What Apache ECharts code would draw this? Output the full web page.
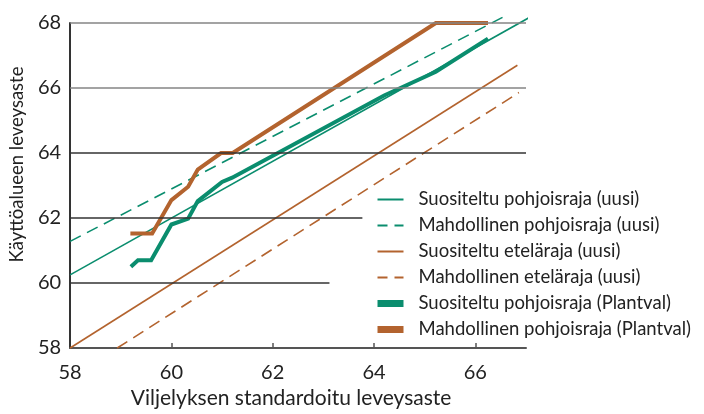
<!DOCTYPE html>
<html>
<head>
<meta charset="utf-8">
<script src="https://cdn.jsdelivr.net/npm/echarts@6/dist/echarts.min.js"></script>
<style>
html, body { margin: 0; padding: 0; background: #fff; }
#chart { width: 704px; height: 414px; }
</style>
</head>
<body>
<div id="chart"></div>
<script>
// sarjojen nimet (legenda)
const names = [
	'Suositeltu pohjoisraja (uusi)',
	'Mahdollinen pohjoisraja (uusi)',
	'Suositeltu eteläraja (uusi)',
	'Mahdollinen eteläraja (uusi)',
	'Suositeltu pohjoisraja (Plantval)',
	'Mahdollinen pohjoisraja (Plantval)'
];

// uudet rajat: suorat, [x, y]
const suosPohjUusi = [[58, 60.25], [67.1, 68.2]];
const mahdPohjUusi = [[58, 61.28], [66.57, 68.2]];
const suosEtelaUusi = [[58, 58], [66.83, 66.7]];
const mahdEtelaUusi = [[58.93, 58], [66.86, 65.86]];

// Plantval-rajat
const suosPohjPlantX = [59.2, 59.34, 59.6, 60.0, 60.33, 60.52, 61.0, 61.2, 64.2, 65.22, 66.25];
const suosPohjPlantY = [60.5, 60.7, 60.7, 61.8, 61.98, 62.52, 63.11, 63.24, 65.77, 66.5, 67.52];
const mahdPohjPlantX = [59.19, 59.62, 60.0, 60.33, 60.52, 60.98, 61.21, 65.22, 66.25];
const mahdPohjPlantY = [61.52, 61.52, 62.55, 62.96, 63.49, 64.0, 64.0, 68.0, 68.0];

// akselit ja vaakaviivat
const xTicks = [58, 60, 62, 64, 66];
const yTicks = [58, 60, 62, 64, 66, 68];
const gridRows = [60, 62, 64, 66, 68];
const gridEnds = [63.12, 63.77, 67, 67, 67];

const green = '#0a8d6e';
const brown = '#b3632e';
const font = 'Lato';

function pairs(xs, ys) {
	return xs.map(function (x, i) { return [x, ys[i]]; });
}

let gridLines = gridRows.map(function (y, i) {
	return [
		{ coord: [58, y], lineStyle: { color: y >= 66 ? '#858585' : '#333', width: 1.5, type: 'solid' } },
		{ coord: [gridEnds[i], y] }
	];
});

function thin(name, data, color, dashed) {
	return {
		name: name,
		type: 'line',
		data: data,
		symbol: 'none',
		clip: false,
		z: 3,
		lineStyle: { color: color, width: 1.6, type: dashed ? [12, 7] : 'solid' },
		itemStyle: { color: color }
	};
}

function thick(name, data, color) {
	return {
		name: name,
		type: 'line',
		data: data,
		symbol: 'none',
		clip: false,
		z: 4,
		lineStyle: { color: color, width: 4, join: 'miter' },
		itemStyle: { color: color }
	};
}

// legendan viivat: ohut, katkoviiva, paksu
function legendItem(n, i) {
	if (i >= 4) return { name: n, lineStyle: { width: 7 } };
	if (i % 2 == 1) return { name: n, lineStyle: { width: 2, type: [10, 7] } };
	return { name: n, lineStyle: { width: 2 } };
}

let chart = echarts.init(document.getElementById('chart'));

let option = {
	animation: false,
	textStyle: { fontFamily: font },
	grid: { left: 67, right: 178, top: 23, bottom: 65 },
	legend: {
		orient: 'vertical',
		left: 374,
		top: 190,
		padding: 0,
		itemWidth: 26,
		itemHeight: 14,
		itemGap: 7,
		itemStyle: { opacity: 0 },
		textStyle: { fontFamily: font, fontSize: 18.5, lineHeight: 19, color: '#222', padding: [0, 0, 0, 10] },
		data: names.map(legendItem)
	},
	xAxis: {
		type: 'value',
		min: 58,
		max: 67,
		interval: 2,
		name: 'Viljelyksen standardoitu leveysaste',
		nameLocation: 'middle',
		nameGap: 40,
		nameTextStyle: { fontFamily: font, fontSize: 21, color: '#222', padding: [0, 14, 0, 0] },
		axisLine: { show: true, lineStyle: { color: '#555', width: 2 } },
		axisTick: { show: true, inside: true, length: 5, customValues: xTicks.slice(1), lineStyle: { color: '#555', width: 1.5 } },
		axisLabel: { customValues: xTicks, fontFamily: font, fontSize: 20, color: '#222', margin: 15 },
		splitLine: { show: false }
	},
	yAxis: {
		type: 'value',
		min: 58,
		max: 68,
		interval: 2,
		name: 'Käyttöalueen leveysaste',
		nameLocation: 'middle',
		nameGap: 38,
		nameTextStyle: { fontFamily: font, fontSize: 18.5, color: '#222', padding: [0, 0, 0, 42] },
		axisLine: { show: true, lineStyle: { color: '#333', width: 2 } },
		axisTick: { show: false },
		axisLabel: { customValues: yTicks, fontFamily: font, fontSize: 20, color: '#222', margin: 9 },
		splitLine: { show: false }
	},
	series: [
		{
			name: 'grid',
			type: 'line',
			data: [],
			z: 1,
			markLine: { silent: true, symbol: 'none', label: { show: false }, data: gridLines }
		},
		thin(names[0], suosPohjUusi, green, false),
		thin(names[1], mahdPohjUusi, green, true),
		thin(names[2], suosEtelaUusi, brown, false),
		thin(names[3], mahdEtelaUusi, brown, true),
		thick(names[4], pairs(suosPohjPlantX, suosPohjPlantY), green),
		thick(names[5], pairs(mahdPohjPlantX, mahdPohjPlantY), brown)
	]
};

chart.setOption(option);
</script>
</body>
</html>
